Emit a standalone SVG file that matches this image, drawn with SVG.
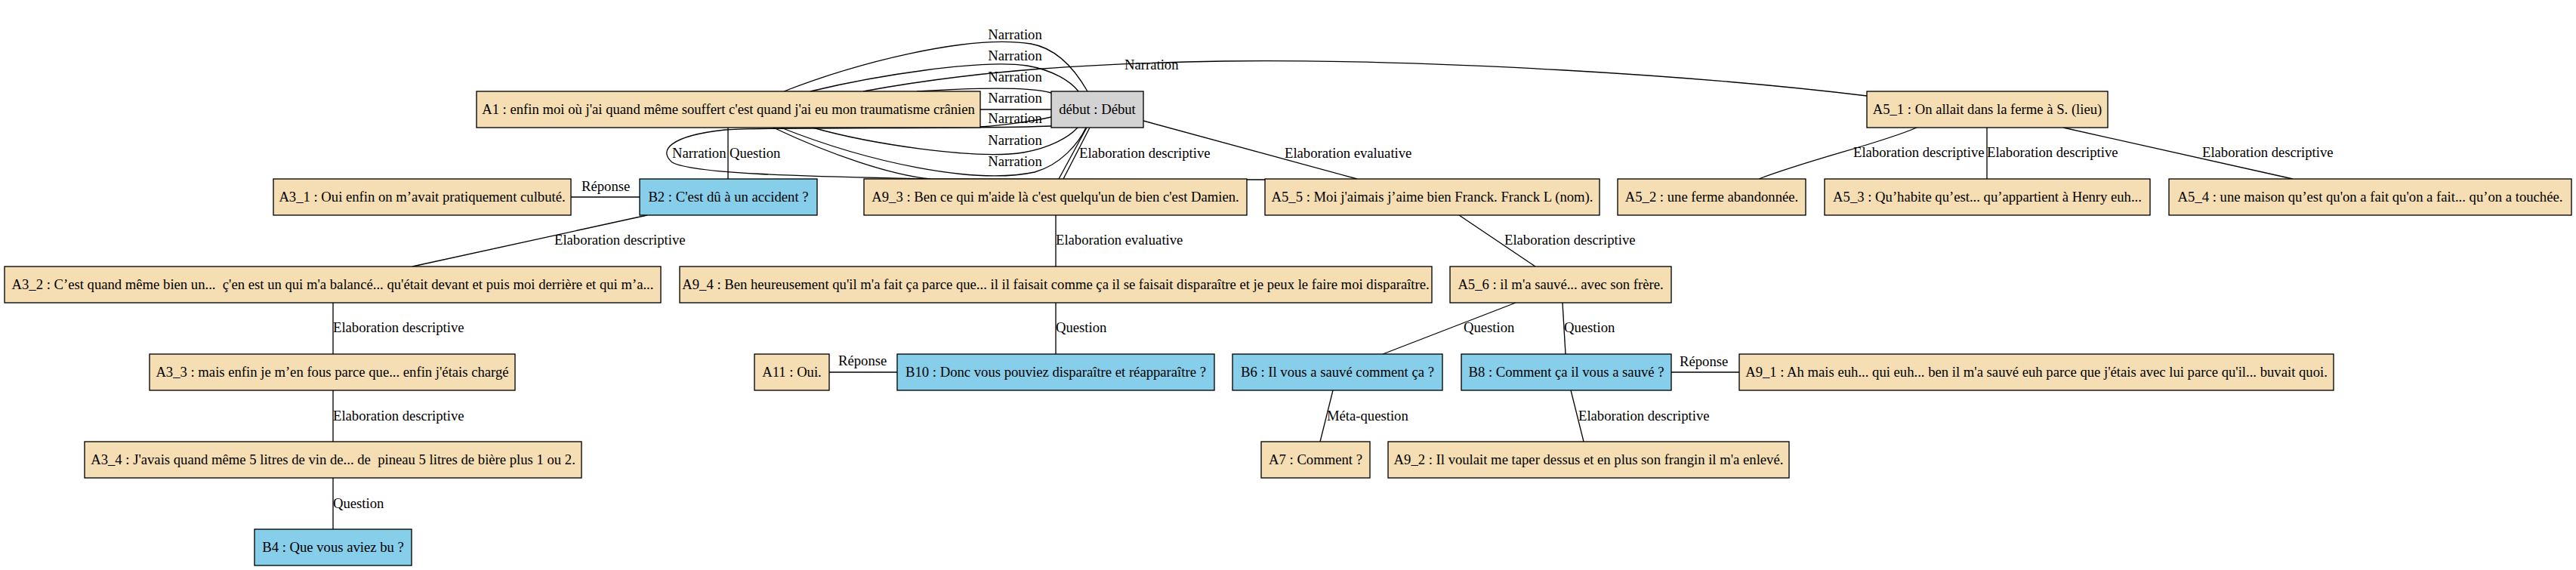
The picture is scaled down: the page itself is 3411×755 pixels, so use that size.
<svg xmlns="http://www.w3.org/2000/svg" width="3411" height="755" viewBox="0 0 3411 755">
<style>
text{font-family:"Liberation Serif","Times New Roman",serif;font-size:18.67px;fill:#000}
.n rect{stroke:#000;stroke-width:1.33}
.n text{text-anchor:middle}
.w{fill:#f5deb3}
.b{fill:#87ceeb}
.g{fill:#d3d3d3}
#edges path{fill:none;stroke:#000;stroke-width:1.33}
#labels text{text-anchor:start}
#labels .c{text-anchor:middle}
</style>
<rect width="3411" height="755" fill="#fff"/>
<g id="edges">
<!-- A1 - debut flat edges -->
<path d="M1038,121 C1130,85 1280,45 1365,58 C1405,65 1428,100 1440,121"/>
<path d="M1073,121 C1160,100 1300,78 1360,87 C1395,93 1418,108 1428,121"/>
<path d="M1214,121 C1280,117 1360,114 1392,123"/>
<path d="M1298,145 L1392,145"/>
<path d="M1298,168 C1330,166 1370,160 1392,155"/>
<path d="M1076,169 C1150,190 1290,212 1355,202 C1390,196 1415,182 1427,169"/>
<path d="M1034,169 C1150,215 1290,245 1370,228 C1405,218 1428,190 1438,169"/>
<!-- A1 -> A5_1 -->
<path d="M1143,121 C1300,92 1450,84 1620,81 C1900,78 2250,100 2472,127"/>
<!-- loop -->
<path d="M1392,167 C1300,171 1000,168 960,172 C885,180 872,200 890,215 C920,232 1100,234 1230,237"/>
<!-- A1 -> A5_5 along A9_3 top -->
<path d="M1024,169 C1100,205 1180,232 1232,237 L1675,238"/>
<!-- debut -> A9_3 -->
<path d="M1439,169 L1402,237"/>
<path d="M1443,169 L1408,237"/>
<!-- debut -> A5_5 -->
<path d="M1514,160 L1797,237"/>
<!-- A1 -> B2 -->
<path d="M964,169 L964,237"/>
<path d="M847,261 L756,261"/>
<path d="M857,285 L546,353"/>
<path d="M441,401 L441,469"/>
<path d="M441,517 L441,585"/>
<path d="M441,633 L441,701"/>
<path d="M1398,285 L1398,353"/>
<path d="M1398,401 L1398,469"/>
<path d="M1188,493 L1098,493"/>
<path d="M1932,285 L2033,353"/>
<path d="M2007,401 L1831,469"/>
<path d="M2069,401 L2073,469"/>
<path d="M2213,493 L2303,493"/>
<path d="M1765,517 L1748,585"/>
<path d="M2080,517 L2097,585"/>
<path d="M2538,169 C2490,190 2400,210 2329,237"/>
<path d="M2631,169 L2631,237"/>
<path d="M2732,169 L3036,237"/>
</g>
<g id="labels">
<text class="c" x="1344" y="52">Narration</text>
<text class="c" x="1344" y="80">Narration</text>
<text class="c" x="1344" y="108">Narration</text>
<text class="c" x="1344" y="136">Narration</text>
<text class="c" x="1344" y="163">Narration</text>
<text class="c" x="1344" y="192">Narration</text>
<text class="c" x="1344" y="220">Narration</text>
<text x="1489" y="92">Narration</text>
<text x="890" y="209">Narration</text>
<text x="966" y="209">Question</text>
<text x="1429" y="209">Elaboration descriptive</text>
<text x="1701" y="209">Elaboration evaluative</text>
<text x="770" y="253">Réponse</text>
<text x="734" y="324">Elaboration descriptive</text>
<text x="441" y="440">Elaboration descriptive</text>
<text x="441" y="557">Elaboration descriptive</text>
<text x="441" y="673">Question</text>
<text x="1398" y="324">Elaboration evaluative</text>
<text x="1398" y="440">Question</text>
<text x="1110" y="484">Réponse</text>
<text x="1992" y="324">Elaboration descriptive</text>
<text x="1938" y="440">Question</text>
<text x="2071" y="440">Question</text>
<text x="2224" y="485">Réponse</text>
<text x="1757" y="557">Méta-question</text>
<text x="2090" y="557">Elaboration descriptive</text>
<text x="2454" y="208">Elaboration descriptive</text>
<text x="2631" y="208">Elaboration descriptive</text>
<text x="2916" y="208">Elaboration descriptive</text>
</g>
<g id="A1" class="n"><rect class="w" x="631" y="121" width="667" height="48"/><text x="964.5" y="151">A1 : enfin moi où j'ai quand même souffert c'est quand j'ai eu mon traumatisme crânien</text></g>
<g id="debut" class="n"><rect class="g" x="1392" y="121" width="122" height="48"/><text x="1453" y="151">début : Début</text></g>
<g id="A5_1" class="n"><rect class="w" x="2472" y="121" width="319" height="48"/><text x="2631.5" y="151">A5_1 : On allait dans la ferme à S. (lieu)</text></g>
<g id="A3_1" class="n"><rect class="w" x="362" y="237" width="394" height="48"/><text x="559" y="267">A3_1 : Oui enfin on m’avait pratiquement culbuté.</text></g>
<g id="B2" class="n"><rect class="b" x="847" y="237" width="235" height="48"/><text x="964.5" y="267">B2 : C'est dû à un accident ?</text></g>
<g id="A9_3" class="n"><rect class="w" x="1144" y="237" width="507" height="48"/><text x="1397.5" y="267">A9_3 : Ben ce qui m'aide là c'est quelqu'un de bien c'est Damien.</text></g>
<g id="A5_5" class="n"><rect class="w" x="1675" y="237" width="443" height="48"/><text x="1896.5" y="267">A5_5 : Moi j'aimais j’aime bien Franck. Franck L (nom).</text></g>
<g id="A5_2" class="n"><rect class="w" x="2142" y="237" width="249" height="48"/><text x="2266.5" y="267">A5_2 : une ferme abandonnée.</text></g>
<g id="A5_3" class="n"><rect class="w" x="2416" y="237" width="431" height="48"/><text x="2631.5" y="267">A5_3 : Qu’habite qu’est... qu’appartient à Henry euh...</text></g>
<g id="A5_4" class="n"><rect class="w" x="2872" y="237" width="533" height="48"/><text x="3138.5" y="267">A5_4 : une maison qu’est qu'on a fait qu'on a fait... qu’on a touchée.</text></g>
<g id="A3_2" class="n"><rect class="w" x="6" y="353" width="869" height="48"/><text x="440.5" y="383" xml:space="preserve">A3_2 : C’est quand même bien un...  ç'en est un qui m'a balancé... qu'était devant et puis moi derrière et qui m’a...</text></g>
<g id="A9_4" class="n"><rect class="w" x="900" y="353" width="996" height="48"/><text x="1398" y="383">A9_4 : Ben heureusement qu'il m'a fait ça parce que... il il faisait comme ça il se faisait disparaître et je peux le faire moi disparaître.</text></g>
<g id="A5_6" class="n"><rect class="w" x="1920" y="353" width="293" height="48"/><text x="2066.5" y="383">A5_6 : il m'a sauvé... avec son frère.</text></g>
<g id="A3_3" class="n"><rect class="w" x="198" y="469" width="484" height="48"/><text x="440" y="499">A3_3 : mais enfin je m’en fous parce que... enfin j'étais chargé</text></g>
<g id="A11" class="n"><rect class="w" x="999" y="469" width="99" height="48"/><text x="1048.5" y="499">A11 : Oui.</text></g>
<g id="B10" class="n"><rect class="b" x="1188" y="469" width="420" height="48"/><text x="1398" y="499">B10 : Donc vous pouviez disparaître et réapparaître ?</text></g>
<g id="B6" class="n"><rect class="b" x="1632" y="469" width="278" height="48"/><text x="1771" y="499">B6 : Il vous a sauvé comment ça ?</text></g>
<g id="B8" class="n"><rect class="b" x="1935" y="469" width="278" height="48"/><text x="2074" y="499">B8 : Comment ça il vous a sauvé ?</text></g>
<g id="A9_1" class="n"><rect class="w" x="2303" y="469" width="787" height="48"/><text x="2696.5" y="499">A9_1 : Ah mais euh... qui euh... ben il m'a sauvé euh parce que j'étais avec lui parce qu'il... buvait quoi.</text></g>
<g id="A3_4" class="n"><rect class="w" x="112" y="585" width="658" height="48"/><text x="441" y="615" xml:space="preserve">A3_4 : J'avais quand même 5 litres de vin de... de  pineau 5 litres de bière plus 1 ou 2.</text></g>
<g id="A7" class="n"><rect class="w" x="1670" y="585" width="144" height="48"/><text x="1742" y="615">A7 : Comment ?</text></g>
<g id="A9_2" class="n"><rect class="w" x="1838" y="585" width="531" height="48"/><text x="2103.5" y="615">A9_2 : Il voulait me taper dessus et en plus son frangin il m'a enlevé.</text></g>
<g id="B4" class="n"><rect class="b" x="337" y="701" width="208" height="48"/><text x="441" y="731">B4 : Que vous aviez bu ?</text></g>
</svg>
